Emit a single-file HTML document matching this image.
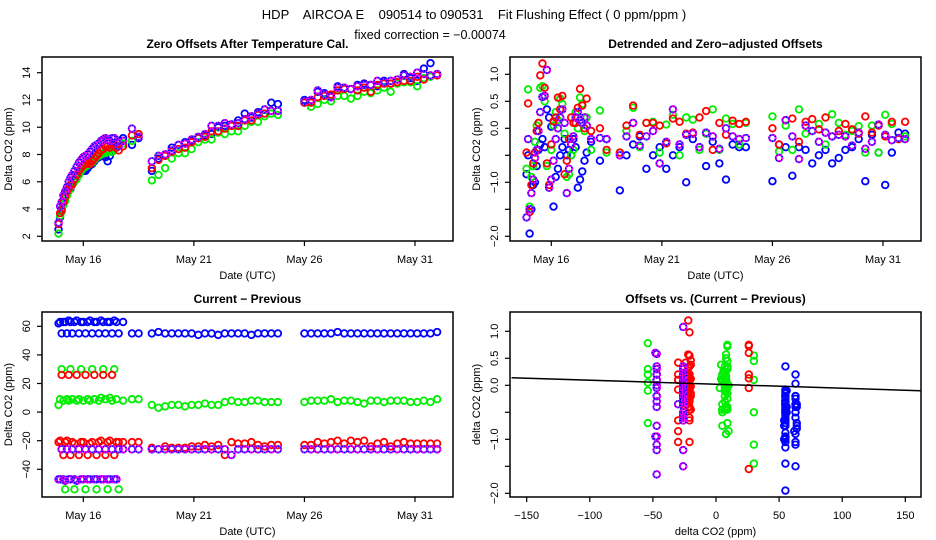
<!DOCTYPE html>
<html><head><meta charset="utf-8"><style>
html,body{margin:0;padding:0;background:#fff;}
svg{display:block;font-family:"Liberation Sans",sans-serif;}
</style></head><body>
<svg id="chart" width="936" height="540" viewBox="0 0 936 540" xmlns="http://www.w3.org/2000/svg">
<text x="474" y="19" text-anchor="middle" font-size="13" style="white-space:pre">HDP    AIRCOA E    090514 to 090531    Fit Flushing Effect ( 0 ppm/ppm )</text>
<text x="430" y="39" text-anchor="middle" font-size="12.5">fixed correction = −0.00074</text>
</svg>
<script>
// ---- data ----
const times = [14.88,14.95,15.02,15.1,15.18,15.26,15.34,15.42,15.5,15.6,15.7,15.8,15.9,16.0,16.1,16.2,16.3,16.4,16.5,16.6,16.7,16.8,16.9,17.0,17.1,17.2,17.3,17.4,17.5,17.6,17.8,18.2,18.5,
19.1,19.4,19.7,20.0,20.3,20.6,20.9,21.2,21.5,21.8,22.1,22.4,22.7,23.0,23.3,23.6,23.9,24.2,24.5,24.8,
26.0,26.3,26.6,26.9,27.2,27.5,27.8,28.1,28.4,28.7,29.0,29.3,29.6,29.9,30.2,30.5,30.8,31.1,31.4,31.7,32.0];
const seriesNames = ["blue","green","red","magenta"];
const offBlue = [2.5,3.4,4.0,4.6,5.0,5.2,5.5,5.5,5.8,6.1,6.4,6.7,6.9,6.8,6.8,7.0,7.2,7.3,7.5,7.7,7.8,7.9,8.0,7.8,7.5,7.9,8.2,8.5,8.6,9.0,9.2,8.7,9.2,
6.8,7.7,8.0,8.5,8.7,8.9,9.0,9.2,9.4,9.5,10.0,10.1,10.2,10.5,11.0,10.7,11.1,11.3,11.8,11.7,
12.0,11.9,12.6,12.5,12.3,13.0,12.9,12.8,13.1,13.2,13.1,13.0,13.4,13.2,13.5,13.9,13.6,13.4,14.3,14.7,13.9];
const offGreen = [2.2,3.5,3.8,4.3,4.6,5.0,5.3,5.6,5.8,6.0,6.2,6.5,6.8,7.0,7.1,7.2,7.3,7.4,7.6,7.8,7.9,8.0,8.1,8.1,8.2,8.3,8.2,8.4,8.5,8.6,8.8,9.0,9.5,
6.1,6.5,7.0,7.7,8.1,8.1,8.4,8.9,9.1,9.1,9.6,9.5,9.7,9.7,10.1,10.4,10.4,10.8,11.0,10.9,
11.8,11.5,11.7,12.0,11.9,12.3,12.3,12.1,12.3,12.6,12.5,12.7,12.9,12.6,13.2,13.3,13.3,13.0,13.6,13.7,13.9];
const offRed = [2.9,3.7,3.9,4.5,4.9,5.3,5.5,5.8,5.8,6.2,6.5,6.8,7.0,7.2,7.3,7.4,7.3,7.5,7.7,7.9,8.1,8.3,8.4,8.6,8.6,8.5,8.7,8.8,8.5,8.3,8.6,9.4,9.5,
7.0,7.6,7.9,8.2,8.4,8.5,8.9,9.2,9.3,9.7,9.7,9.9,10.1,10.1,10.5,10.5,10.9,11.0,11.2,11.2,
11.8,11.8,12.2,12.3,12.4,12.7,12.8,12.8,12.7,12.9,12.6,13.1,13.2,13.2,13.3,13.4,13.4,13.7,13.5,13.8,13.8];
const offMagenta = [3.0,4.2,4.5,5.0,5.3,5.6,6.0,6.3,6.5,6.8,7.1,7.4,7.6,7.8,7.9,8.0,8.2,8.4,8.6,8.7,8.8,9.0,9.1,9.2,9.1,9.0,9.2,9.2,8.9,8.6,9.0,9.9,9.3,
7.5,7.9,8.0,8.3,8.7,8.8,9.1,9.3,9.5,10.1,10.1,10.3,10.2,10.3,10.6,10.8,11.0,11.3,11.2,11.2,
11.9,12.0,12.7,12.4,12.2,12.9,12.9,12.8,13.0,13.1,13.1,13.4,13.3,13.4,13.5,13.8,13.7,14.0,13.9,13.8,13.9];
const detBlue = [-0.85,-0.5,-1.95,-1.5,-1.05,-1.0,-0.7,-0.4,-0.3,-0.2,-0.35,0.35,0.2,0.03,-1.45,-0.9,-0.75,-0.5,-0.35,-0.2,-0.5,-0.4,-0.5,-0.2,-0.35,-1.1,-0.95,-0.8,-0.6,-0.45,-0.25,-0.6,-0.2,
-1.15,-0.5,-0.3,-0.15,-0.75,-0.5,-0.35,-0.75,-0.5,-0.35,-1.0,-0.2,-0.35,-0.7,-0.25,-0.65,-0.95,-0.3,-0.35,-0.35,
-0.98,-0.3,-0.35,-0.88,-0.35,-0.4,-0.65,-0.5,-0.4,-0.65,-0.55,-0.4,-0.35,-0.2,-0.98,-0.12,-0.45,-1.05,-0.45,-0.08,-0.1];
const detGreen = [-0.75,0.72,-1.45,-0.9,-0.7,-0.25,0.05,0.1,0.75,0.78,0.5,-0.7,-1.1,-0.4,0.05,0.3,0.15,0.55,0.45,-0.1,-0.9,-0.85,-0.5,-0.4,0.3,0.0,0.57,0.45,-0.05,0.2,-0.4,0.33,-0.45,
-0.45,-0.05,0.38,-0.35,0.1,0.12,-0.45,0.07,0.25,-0.5,0.2,0.16,-0.4,-0.1,0.35,-0.4,0.18,0.08,-0.3,0.1,
0.22,-0.43,0.05,-0.4,0.35,-0.1,-0.05,0.08,-0.3,0.26,0.1,-0.12,-0.05,0.04,-0.45,0.05,-0.45,0.25,0.08,-0.2,-0.15];
const detRed = [-0.45,0.46,-1.55,-1.05,-0.65,-0.45,-0.05,0.1,0.98,1.2,0.75,-0.65,-1.05,-0.3,0.13,0.2,0.57,0.35,0.6,-0.85,-0.6,-0.2,0.2,0.1,0.1,0.38,0.73,0.42,0.0,0.55,-0.05,0.0,-0.4,
-0.45,0.05,0.42,-0.12,0.1,0.1,0.05,-0.28,0.18,0.12,-0.1,-0.08,0.2,0.32,-0.4,0.1,-0.12,0.14,0.08,0.12,
0.0,-0.3,0.15,0.18,-0.25,0.12,0.17,-0.02,0.2,-0.15,-0.05,0.08,-0.02,-0.1,0.22,-0.08,0.05,-0.15,0.12,-0.2,0.12];
const detMagenta = [-1.65,-0.2,-1.5,-1.2,-0.95,-0.55,-0.4,-0.05,0.3,0.58,0.6,1.08,-1.1,-0.95,-0.6,-0.2,0.0,0.2,0.35,0.1,-1.2,-0.75,-0.3,-0.15,0.2,0.3,0.15,0.1,0.2,0.05,-0.2,-0.18,-0.2,
-0.5,-0.15,0.1,-0.32,-0.15,-0.05,-0.65,-0.25,0.35,-0.3,-0.12,-0.1,-0.35,-0.08,-0.15,-0.38,0.0,-0.15,-0.2,-0.18,
-0.18,-0.55,0.15,-0.15,-0.57,0.05,-0.05,-0.25,-0.08,-0.15,-0.12,-0.15,-0.32,-0.08,-0.38,-0.25,0.07,-0.12,-0.22,-0.18,-0.2];
const cpBlue = [62,63,55,63,63,55,64,63,55,63,64,55,63,63,55,63,64,55,63,63,55,64,63,55,63,63,55,64,63,55,63,55,55,
55,56,55,55,55,55,55,54,55,55,54,55,55,55,55,54,55,55,55,55,
55,55,55,55,55,56,55,55,55,55,55,55,55,55,55,55,55,55,55,55,56];
const cpGreen = [5,9,30,8,-54,9,8,30,9,-54,8,9,30,8,-54,9,8,30,9,-54,8,10,30,9,-54,10,8,30,9,-54,8,9,9,
5,3,4,5,5,4,5,5,6,5,5,7,8,7,7,8,8,7,7,7,
7,8,8,8,9,7,8,8,7,6,8,8,7,8,8,8,7,7,8,7,9];
const cpRed = [-21,-20,26,-30,-21,-20,26,-30,-21,-22,26,-30,-21,-21,26,-30,-22,-21,26,-30,-21,-20,26,-30,-21,-20,26,-30,-21,-21,-21,-21,-21,
-25,-26,-24,-25,-25,-25,-24,-24,-23,-24,-23,-30,-21,-22,-22,-21,-23,-24,-23,-23,
-23,-23,-21,-22,-21,-20,-22,-20,-21,-20,-24,-22,-21,-24,-22,-21,-22,-22,-22,-22,-22];
const cpMagenta = [-47,-47,-26,-47,-48,-26,-47,-47,-26,-47,-48,-26,-47,-47,-26,-47,-47,-26,-47,-47,-26,-47,-47,-26,-47,-47,-26,-47,-47,-26,-26,-26,-26,
-26,-26,-26,-26,-26,-26,-26,-26,-26,-26,-26,-26,-30,-26,-26,-26,-26,-26,-26,-26,
-26,-26,-26,-26,-26,-26,-26,-26,-26,-26,-26,-26,-26,-26,-26,-26,-26,-26,-26,-26,-26];
const fitSlope = -0.00074;
const fitIntercept = 0.02;
const dateTicks = [16,21,26,31];
const dateTickLabels = ["May 16","May 21","May 26","May 31"];
const offTicks = [2,4,6,8,10,12,14];
const detTicks = [1.0,0.5,0.0,-0.5,-1.0,-1.5,-2.0];
const detTickLabels = ["1.0","0.5","0.0","","−1.0","","−2.0"];
const cpTicks = [60,40,20,0,-20,-40];
const cpTickLabels = ["60","40","20","0","−20","−40"];
const dxTicks = [-150,-100,-50,0,50,100,150];
const dxTickLabels = ["−150","−100","−50","0","50","100","150"];

// ---- drawing ----
const NS = "http://www.w3.org/2000/svg";
const svg = document.getElementById("chart");
const colors = {blue:"#0000ff",green:"#00ee00",red:"#ff0000",magenta:"#ff00ff"};
const offSets = {blue:offBlue,green:offGreen,red:offRed,magenta:offMagenta};
const detSets = {blue:detBlue,green:detGreen,red:detRed,magenta:detMagenta};
const cpSets = {blue:cpBlue,green:cpGreen,red:cpRed,magenta:cpMagenta};

function el(tag, attrs, parent) {
  const e = document.createElementNS(NS, tag);
  for (const k in attrs) e.setAttribute(k, attrs[k]);
  (parent || svg).appendChild(e);
  return e;
}
function lin(d0, d1, p0, p1) { return v => p0 + (v - d0) * (p1 - p0) / (d1 - d0); }

function panel(name, box, title, xTitle, yTitle, xs, ys, xt, xtl, yt, ytl) {
  const g = el("g", {});
  
  
  const t = el("text", {x:(box.x0+box.x1)/2, y:box.y0-9, "text-anchor":"middle", "font-size":"12", "font-weight":"bold"}, g);
  t.textContent = title;
  
  
  const r = el("rect", {x:box.x0, y:box.y0, width:box.x1-box.x0, height:box.y1-box.y0, fill:"none", stroke:"#000", "stroke-width":"1.5"}, g);
  
  
  const xa = el("g", {}, g);
  
  
  xt.forEach((v, i) => {
    const px = xs(v);
    el("line", {x1:px, x2:px, y1:box.y1, y2:box.y1+5, stroke:"#000", "stroke-width":"1.2"}, xa);
    const lt = el("text", {x:px, y:box.y1+22, "text-anchor":"middle", "font-size":"11"}, xa);
    lt.textContent = xtl[i];
    
    
  });
  const xl = el("text", {x:(box.x0+box.x1)/2, y:box.y1+38, "text-anchor":"middle", "font-size":"11"}, g);
  xl.textContent = xTitle;
  
  
  const ya = el("g", {}, g);
  
  
  yt.forEach((v, i) => {
    const py = ys(v);
    el("line", {x1:box.x0-5, x2:box.x0, y1:py, y2:py, stroke:"#000", "stroke-width":"1.2"}, ya);
    if (ytl[i] !== "") {
      const lt = el("text", {x:0, y:0, "text-anchor":"middle", "font-size":"11", transform:`translate(${box.x0-12},${py}) rotate(-90)`}, ya);
      lt.textContent = ytl[i];
      
      
    }
  });
  const yl = el("text", {x:0, y:0, "text-anchor":"middle", "font-size":"11", transform:`translate(${box.x0-30},${(box.y0+box.y1)/2}) rotate(-90)`}, g);
  yl.textContent = yTitle;
  
  
  return g;
}

function point(parent, px, py, col) {
  if (col === "magenta") {
    el("circle", {cx:px, cy:py, r:3.3, fill:"none", stroke:"#0000ff", "stroke-width":"1.8"}, parent);
    el("circle", {cx:px, cy:py, r:3.3, fill:"none", stroke:"#ff00ff", "stroke-width":"1.8", "stroke-dasharray":"1.6 1.2"}, parent);
  } else {
    el("circle", {cx:px, cy:py, r:3.3, fill:"none", stroke:colors[col], "stroke-width":"1.8"}, parent);
  }
}

function scatter(parentName, g, xv, yv, xs, ys, col) {
  const sg = el("g", {}, g);
  
  
  for (let i = 0; i < xv.length; i++) point(sg, xs(xv[i]), ys(yv[i]), col);
}

const dateX1 = lin(16, 31, 83.3, 415);
const dateX2 = lin(16, 31, 551.3, 883);

// Panel 1
const b1 = {x0:42, x1:453, y0:57, y1:241};
const y1s = lin(2, 14, 236.3, 72.7);
const g1 = panel("zero-offsets-panel", b1, "Zero Offsets After Temperature Cal.", "Date (UTC)", "Delta CO2 (ppm)", dateX1, y1s, dateTicks, dateTickLabels, offTicks, offTicks.map(String));
seriesNames.forEach(c => scatter("zero-offsets", g1, times, offSets[c], dateX1, y1s, c));

// Panel 2
const b2 = {x0:510, x1:921, y0:57, y1:241};
const y2s = lin(1.0, -2.0, 74.3, 236.3);
const g2 = panel("detrended-panel", b2, "Detrended and Zero−adjusted Offsets", "Date (UTC)", "Delta CO2 (ppm)", dateX2, y2s, dateTicks, dateTickLabels, detTicks, detTickLabels);
seriesNames.forEach(c => scatter("detrended", g2, times, detSets[c], dateX2, y2s, c));

// Panel 3
const b3 = {x0:42, x1:453, y0:312, y1:497};
const y3s = lin(60, -40, 326.3, 469.3);
const g3 = panel("current-previous-panel", b3, "Current − Previous", "Date (UTC)", "Delta CO2 (ppm)", dateX1, y3s, dateTicks, dateTickLabels, cpTicks, cpTickLabels);
seriesNames.forEach(c => scatter("current-previous", g3, times, cpSets[c], dateX1, y3s, c));

// Panel 4
const b4 = {x0:510, x1:921, y0:312, y1:497};
const x4s = lin(-150, 150, 526.7, 905.3);
const y4s = lin(1.0, -2.0, 331.3, 493.3);
const g4 = panel("offsets-vs-diff-panel", b4, "Offsets vs. (Current − Previous)", "delta CO2 (ppm)", "delta CO2 (ppm)", x4s, y4s, dxTicks, dxTickLabels, detTicks, detTickLabels);
seriesNames.forEach(c => scatter("offsets-vs-diff", g4, cpSets[c], detSets[c], x4s, y4s, c));
const xa = -162, xb = 162;
const fit = el("line", {x1:x4s(xa), y1:y4s(fitIntercept + fitSlope*xa), x2:x4s(xb), y2:y4s(fitIntercept + fitSlope*xb), stroke:"#000", "stroke-width":"1.5"}, g4);


</script>
</body></html>
